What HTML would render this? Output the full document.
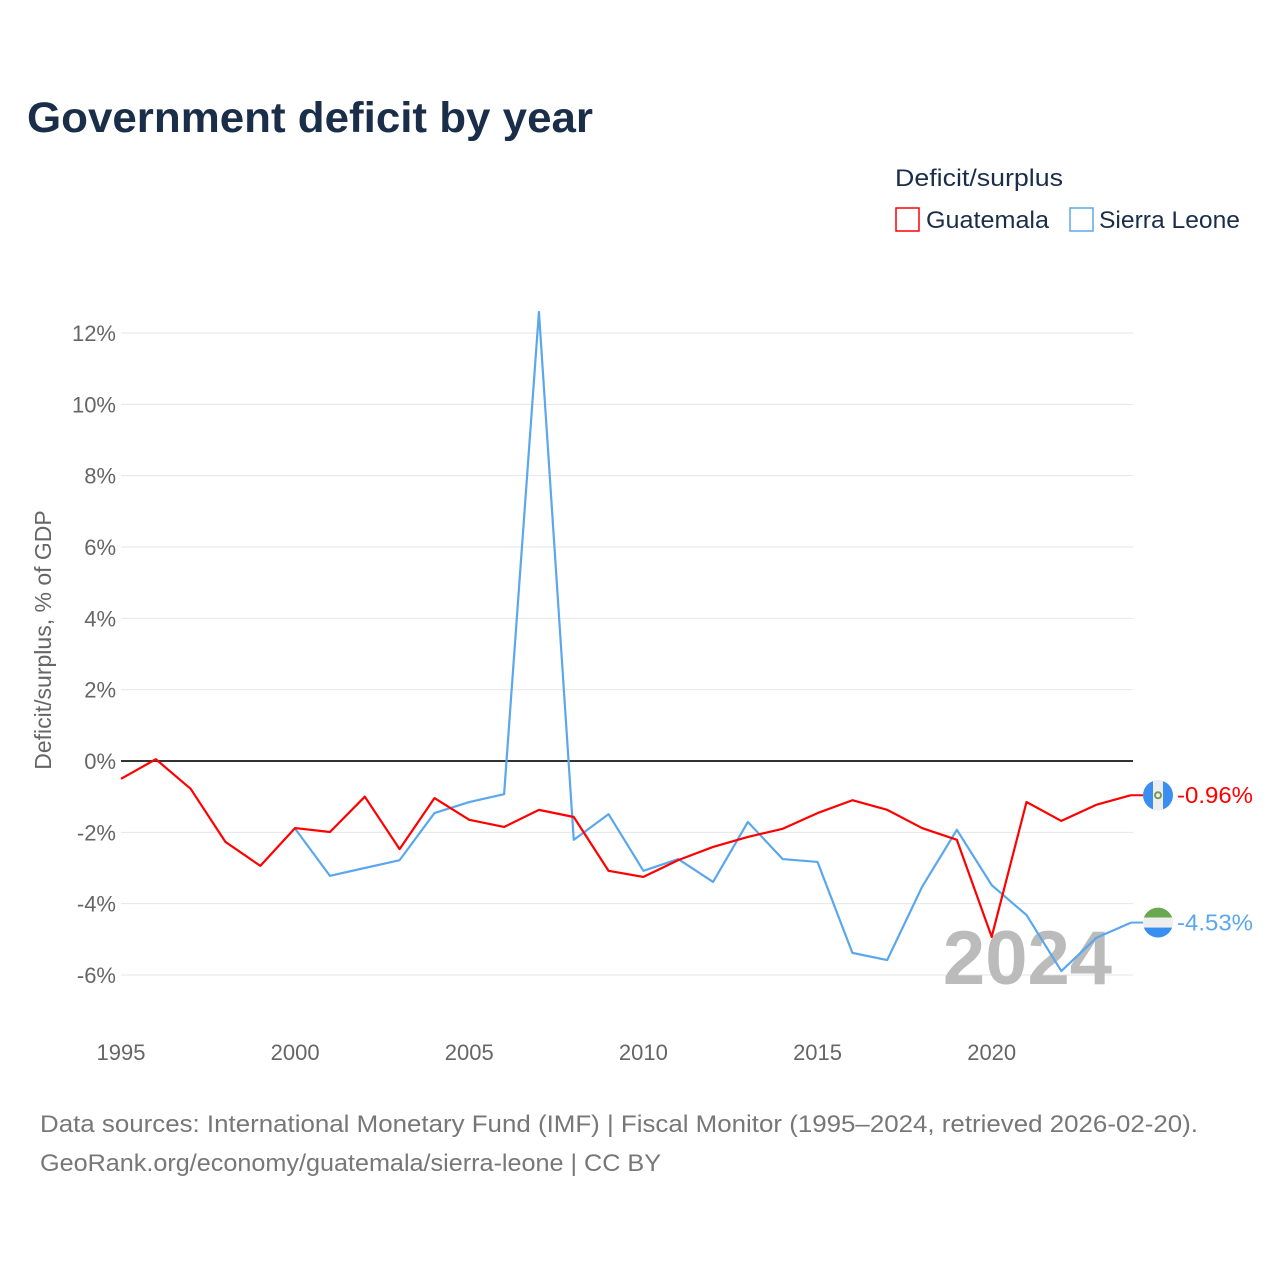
<!DOCTYPE html>
<html><head><meta charset="utf-8">
<style>
body{margin:0;background:#fff;font-family:"Liberation Sans",sans-serif;}
#root{position:relative;width:1280px;height:1280px;overflow:hidden;}
svg text{font-family:"Liberation Sans",sans-serif;}
</style></head>
<body>
<div id="root">
<svg id="chart" width="1280" height="1280">
<text x="27" y="132" font-size="43" font-weight="bold" fill="#1a2e4a" textLength="566" lengthAdjust="spacingAndGlyphs">Government deficit by year</text>
<text x="895" y="186" font-size="24" fill="#1a2e4a" textLength="168" lengthAdjust="spacingAndGlyphs">Deficit/surplus</text>
<g>
<rect x="896" y="208" width="23" height="23" fill="none" stroke="#ff0000" stroke-width="1.5"/>
<text x="926" y="228" font-size="24" fill="#1a2e4a" textLength="123" lengthAdjust="spacingAndGlyphs">Guatemala</text>
</g>
<g>
<rect x="1070" y="208" width="23" height="23" fill="none" stroke="#5aa7ee" stroke-width="1.5"/>
<text x="1099" y="228" font-size="24" fill="#1a2e4a" textLength="141" lengthAdjust="spacingAndGlyphs">Sierra Leone</text>
</g>
<text transform="translate(51,640) rotate(-90)" text-anchor="middle" font-size="23" fill="#666">Deficit/surplus, % of GDP</text>
<g id="grid"></g>
<text x="1112" y="984" text-anchor="end" font-size="76" font-weight="bold" fill="#bbb">2024</text>
<g id="series"></g>
<text x="40" y="1132" font-size="24" fill="#777" textLength="1158" lengthAdjust="spacingAndGlyphs">Data sources: International Monetary Fund (IMF) | Fiscal Monitor (1995–2024, retrieved 2026-02-20).</text>
<text x="40" y="1171" font-size="24" fill="#777" textLength="621" lengthAdjust="spacingAndGlyphs">GeoRank.org/economy/guatemala/sierra-leone | CC BY</text>
</svg>
</div>
<script>
const years = [1995,1996,1997,1998,1999,2000,2001,2002,2003,2004,2005,2006,2007,2008,2009,2010,2011,2012,2013,2014,2015,2016,2017,2018,2019,2020,2021,2022,2023,2024];
const guatemala = [-0.5,0.05,-0.78,-2.27,-2.94,-1.88,-1.99,-1.0,-2.47,-1.04,-1.65,-1.85,-1.37,-1.57,-3.08,-3.25,-2.78,-2.41,-2.13,-1.9,-1.46,-1.1,-1.37,-1.88,-2.21,-4.93,-1.15,-1.68,-1.23,-0.96];
const sierraLeone = [null,null,null,null,null,-1.9,-3.22,-3.0,-2.78,-1.46,-1.15,-0.93,12.59,-2.21,-1.49,-3.08,-2.75,-3.39,-1.71,-2.75,-2.83,-5.38,-5.58,-3.53,-1.93,-3.48,-4.32,-5.89,-4.96,-4.53];
const yTicks = [-6,-4,-2,0,2,4,6,8,10,12];
const xTicks = [1995,2000,2005,2010,2015,2020];
const NS="http://www.w3.org/2000/svg";
const X = y => 121 + (y-1995)*(1131-121)/(2024-1995);
const Y = v => 761 - v*(761-333)/12;
function mk(tag, attrs, parent){const e=document.createElementNS(NS,tag);for(const k in attrs)e.setAttribute(k,attrs[k]);parent.appendChild(e);return e;}
const grid=document.getElementById('grid');
yTicks.forEach(t=>{
  const l=mk('line',{x1:121,x2:1133,y1:Y(t),y2:Y(t),stroke:t===0?'#333':'#e6e6e6','stroke-width':t===0?2:1},grid);
  
  
  const tx=mk('text',{x:116,y:Y(t)+8,'text-anchor':'end','font-size':22,fill:'#666'},grid);
  tx.textContent=t+'%';
  
  
});
xTicks.forEach(t=>{
  const tx=mk('text',{x:X(t),y:1060,'text-anchor':'middle','font-size':22,fill:'#666'},grid);
  tx.textContent=t;
  
  
});
const ser=document.getElementById('series');
function line(vals,color,name){
  let d='';let started=false;
  vals.forEach((v,i)=>{if(v===null)return;d+=(started?'L':'M')+X(years[i])+','+Y(v);started=true;});
  const p=mk('path',{d:d,fill:'none',stroke:color,'stroke-width':2.2,'stroke-linejoin':'round'},ser);
  
  
}
line(sierraLeone,'#5aa7ee','sierra-leone-line');
line(guatemala,'#ff0000','guatemala-line');
function endLabel(val,color,name,flag){
  const y=Y(val);
  mk('line',{x1:1131,x2:1143,y1:y,y2:y,stroke:color,'stroke-width':2},ser);
  const g=mk('g',{},ser);
  
  
  const cx=1158,r=15;
  mk('clipPath',{id:'c'+name},g).appendChild(document.createElementNS(NS,'circle'));
  const c=g.querySelector('clipPath circle');c.setAttribute('cx',cx);c.setAttribute('cy',y);c.setAttribute('r',r);
  const cg=mk('g',{'clip-path':'url(#c'+name+')'},g);
  if(flag==='gt'){
    mk('rect',{x:cx-r,y:y-r,width:30,height:30,fill:'#3a8ef0'},cg);
    mk('rect',{x:cx-5,y:y-r,width:10,height:30,fill:'#eee'},cg);
    mk('circle',{cx:cx,cy:y,r:3,fill:'none',stroke:'#7a9a50','stroke-width':2},cg);
  } else {
    mk('rect',{x:cx-r,y:y-r,width:30,height:10,fill:'#6aa84f'},cg);
    mk('rect',{x:cx-r,y:y-5,width:30,height:10,fill:'#eee'},cg);
    mk('rect',{x:cx-r,y:y+5,width:30,height:10,fill:'#3a8ef0'},cg);
  }
  const t=mk('text',{x:1177,y:y+8,'font-size':23,fill:color,textLength:76,lengthAdjust:'spacingAndGlyphs'},ser);
  t.textContent=val.toFixed(2)+'%';
  
  
}
endLabel(guatemala[guatemala.length-1],'#ff0000','guatemala','gt');
endLabel(sierraLeone[sierraLeone.length-1],'#5aa7ee','sierra-leone','sl');
</script>
</body></html>
